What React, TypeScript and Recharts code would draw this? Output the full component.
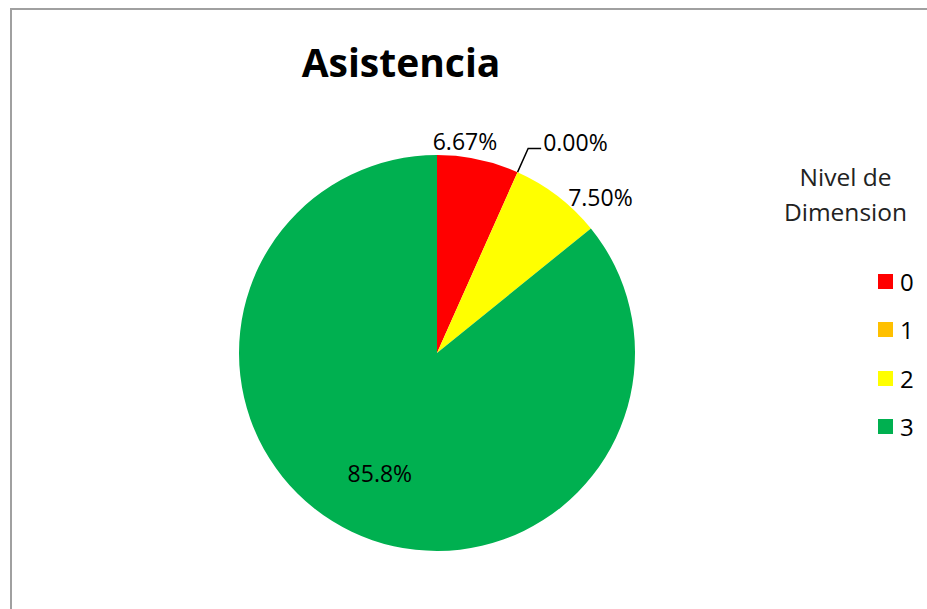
import { PieChart, Pie, Cell, Legend } from 'recharts';

const levels = ['0', '1', '2', '3'];
const shares = [6.67, 0, 7.5, 85.83];
const colors = ['#FF0000', '#FFC000', '#FFFF00', '#00B050'];

const FONT = '"Open Sans", "Noto Sans", sans-serif';
const RAD = Math.PI / 180;

const data = levels.map((name, i) => ({ name, value: shares[i] }));

function pct(p: number) {
    const v = p * 100;
    return (v >= 10 ? v.toFixed(1) : v.toFixed(2)) + '%';
}

// Excel "best fit" style placement, tuned by slice
function renderLabel(props: any) {
    const { cx, cy, midAngle, outerRadius, percent, index } = props;
    const at = (r: number, a: number) => [cx + r * Math.cos(-a * RAD), cy + r * Math.sin(-a * RAD)];
    const text = pct(percent);
    const common = { fill: '#000', fontSize: 23, fontFamily: FONT, dominantBaseline: 'central' as const };

    if (percent === 0) {
        const [x0, y0] = at(outerRadius, midAngle);
        const [x1, y1] = at(outerRadius + 26, midAngle);
        const x2 = x1 + 13;
        return (
            <g key={`l${index}`}>
                <polyline points={`${x0},${y0} ${x1},${y1} ${x2},${y1}`} stroke="#000" strokeWidth={1.5} fill="none" />
                <text x={x2 + 2} y={y1 - 6} textAnchor="start" {...common}>{text}</text>
            </g>
        );
    }
    if (percent > 0.5) {
        const [x, y] = at(outerRadius * 0.67, midAngle);
        return <text key={`l${index}`} x={x} y={y} textAnchor="middle" {...common}>{text}</text>;
    }
    if (index === 0) {
        const [x, y] = at(outerRadius + 16, midAngle + 4.5);
        return <text key={`l${index}`} x={x} y={y} textAnchor="middle" {...common}>{text}</text>;
    }
    const [x, y] = at(outerRadius + 28, midAngle - 8.8);
    return <text key={`l${index}`} x={x} y={y} textAnchor="middle" {...common}>{text}</text>;
}

function renderLegend(props: any) {
    const payload = props.payload || [];
    return (
        <div style={{ position: 'relative', width: 167, height: 300, fontFamily: FONT, color: '#000' }}>
            <div style={{ position: 'absolute', left: 2, top: 9, width: 167, textAlign: 'center', fontSize: 24.5, lineHeight: '35px', color: '#222' }}>
                Nivel de<br />Dimension
            </div>
            {payload.map((p: any, i: number) => {
                const idx = levels.indexOf(String(p.value));
                return (
                    <div key={i} style={{ position: 'absolute', left: 118, top: 124 + i * 48.3, display: 'flex', alignItems: 'center', height: 15 }}>
                        <span style={{ display: 'inline-block', width: 15, height: 15, background: colors[idx >= 0 ? idx : i] }} />
                        <span style={{ marginLeft: 7, fontSize: 24, lineHeight: '15px' }}>{p.value}</span>
                    </div>
                );
            })}
        </div>
    );
}

export default function App() {
    return (
        <div style={{ position: 'fixed', left: 0, top: 0, width: 927, height: 609, background: '#fff', overflow: 'hidden' }}>
            <div style={{ position: 'absolute', left: 10, top: 8, width: 1000, height: 700, borderLeft: '2px solid #a0a0a0', borderTop: '2px solid #a0a0a0' }} />
            <div style={{ position: 'absolute', left: 201, top: 42, width: 400, textAlign: 'center', fontFamily: FONT, fontWeight: 700, fontSize: 39, lineHeight: '39px', color: '#000' }}>
                Asistencia
            </div>
            <div style={{ position: 'absolute', left: 0, top: 0 }}>
                <PieChart width={927} height={609} margin={{ top: 0, right: 0, bottom: 0, left: 0 }}>
                    <Pie
                        data={data}
                        dataKey="value"
                        nameKey="name"
                        cx={437}
                        cy={353}
                        outerRadius={198}
                        startAngle={90}
                        endAngle={-270}
                        stroke="none"
                        label={renderLabel}
                        labelLine={false}
                        isAnimationActive={false}
                    >
                        {data.map((d, i) => (
                            <Cell key={d.name} fill={colors[i]} />
                        ))}
                    </Pie>
                    <Legend
                        layout="vertical"
                        align="right"
                        verticalAlign="middle"
                        content={renderLegend}
                        wrapperStyle={{ position: 'absolute', left: 760, top: 150, width: 167, height: 300 }}
                    />
                </PieChart>
            </div>
        </div>
    );
}
